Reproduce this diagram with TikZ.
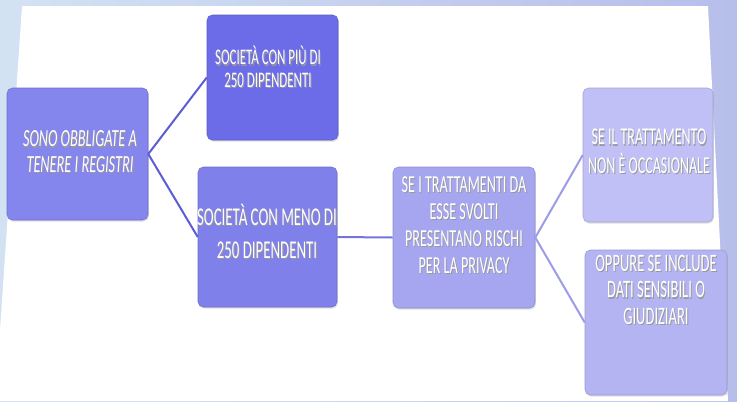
\documentclass[tikz,border=0pt]{standalone}
\usepackage{fontspec}
\setmainfont{Carlito}[FakeStretch=0.58]
\usetikzlibrary{shadows}

\definecolor{bgL}{HTML}{D3E2F3}
\definecolor{bgR}{HTML}{B6BEEA}
\definecolor{boxA}{HTML}{8585EE}
\definecolor{boxB}{HTML}{6C6CE8}
\definecolor{boxC}{HTML}{8080EA}
\definecolor{boxD}{HTML}{A6A6F0}
\definecolor{boxE}{HTML}{C0C0F6}
\definecolor{boxF}{HTML}{B4B4F2}
\definecolor{lineA}{HTML}{5C5CD6}
\definecolor{lineC}{HTML}{7474E0}
\definecolor{lineD}{HTML}{9C9CE8}

% Text mit leichtem Schatten
\newcommand{\schatten}[1]{\leavevmode\rlap{\raisebox{-1pt}{\kern0.7pt\color{black!40}\begin{tabular}{@{}c@{}}#1\end{tabular}}}\begin{tabular}{@{}c@{}}#1\end{tabular}}

\tikzset{
  box/.style={draw=#1!85!black, fill=#1, rounded corners=4pt, inner sep=0pt,
    drop shadow={shadow xshift=0.6pt, shadow yshift=-1.2pt, opacity=0.25}},
  txt/.style={text=white, inner sep=0pt},
  verbindung/.style={line width=1.5pt, draw=#1},
}

\begin{document}
\begin{tikzpicture}[x=0.75pt, y=-0.75pt]
    % Hintergrund
    \useasboundingbox (0,0) rectangle (737,401);
    \shade[left color=bgL, right color=bgR] (0,0) rectangle (737,401);
    \fill[white] (22,6) -- (708,6) -- (728,401) -- (0,401) -- (0,330) -- cycle;
    % Kaesten
    \node[box=boxA, minimum width=105.75pt, minimum height=99pt] (A) at (77.5,154) {};
    \node[box=boxB, minimum width=98.25pt, minimum height=93.75pt] (B) at (272.5,77.5) {};
    \node[box=boxC, minimum width=104.25pt, minimum height=105pt] (C) at (267.5,237) {};
    \node[box=boxD, minimum width=106.5pt, minimum height=105.75pt] (D) at (464,237.5) {};
    \node[box=boxE, minimum width=97.5pt, minimum height=100.5pt] (E) at (648,155) {};
    \node[box=boxF, minimum width=106.5pt, minimum height=108.75pt] (F) at (656,322.5) {};
    % Verbindungen
    \draw[verbindung=lineA] (A.east) -- (B.west);
    \draw[verbindung=lineA] (A.east) -- (C.west);
    \draw[verbindung=lineC] (C.east) -- (D.west);
    \draw[verbindung=lineD] (D.east) -- (E.west);
    \draw[verbindung=lineD] (D.east) -- (F.west);
    % Beschriftungen
    \node[txt, font=\fontsize{18.5}{19}\selectfont] (tA) at (80,155) {\schatten{\itshape SONO OBBLIGATE A\\\itshape TENERE I REGISTRI}};
    \node[txt, font=\fontsize{16.7}{17}\selectfont] (tB) at (268,71) {\schatten{SOCIETÀ CON PIÙ DI\\250 DIPENDENTI}};
    \node[txt, font=\fontsize{19.2}{24.75}\selectfont] (tC) at (267,236) {\schatten{SOCIETÀ CON MENO DI\\250 DIPENDENTI}};
    \node[txt, font=\fontsize{18.3}{20.25}\selectfont] (tD) at (464,228) {\schatten{SE I TRATTAMENTI DA\\ESSE SVOLTI\\PRESENTANO RISCHI\\PER LA PRIVACY}};
    \node[txt, font=\fontsize{18.1}{21}\selectfont] (tE) at (649,154) {\schatten{SE IL TRATTAMENTO\\NON È OCCASIONALE}};
    \node[txt, font=\fontsize{18.8}{20}\selectfont] (tF) at (656,293) {\schatten{OPPURE SE INCLUDE\\DATI SENSIBILI O\\GIUDIZIARI}};
\end{tikzpicture}
\end{document}
